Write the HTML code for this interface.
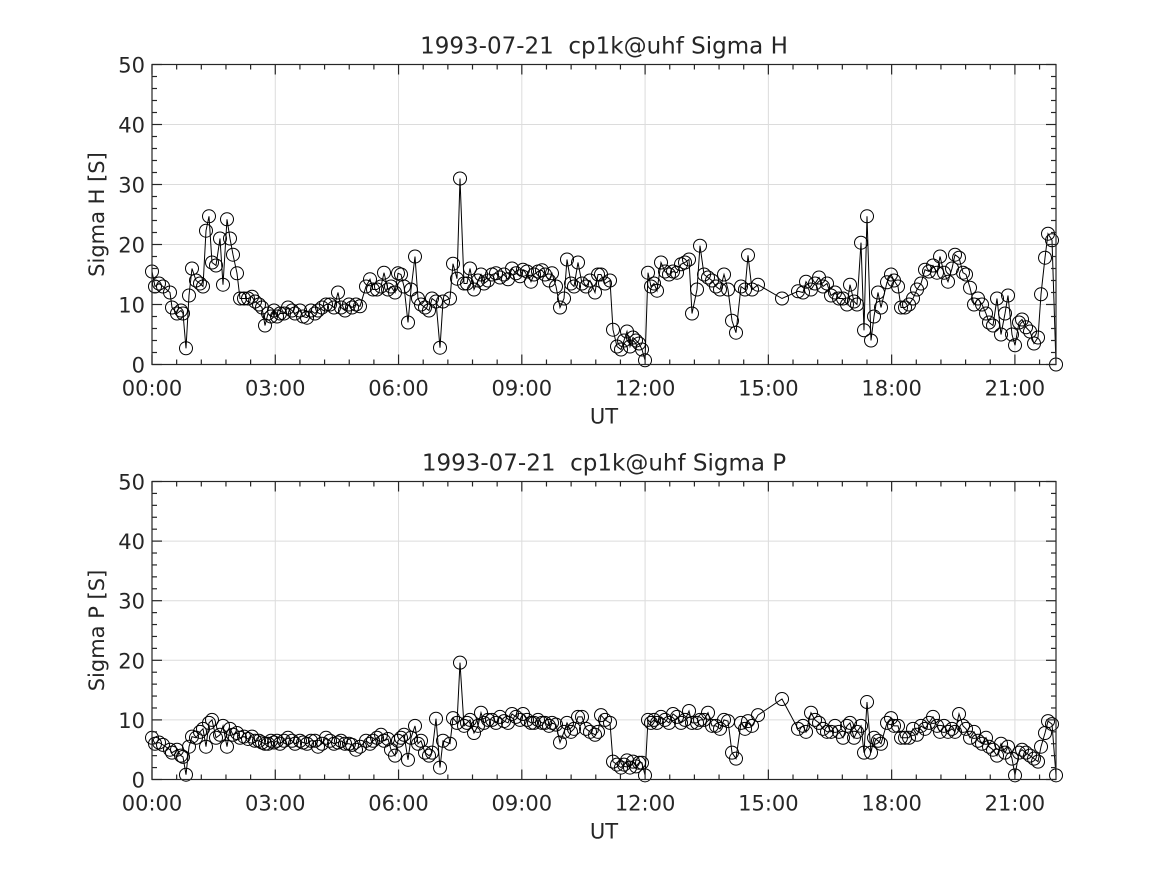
<!DOCTYPE html>
<html><head><meta charset="utf-8"><style>
body{margin:0;background:#fff;}
svg text{font-family:"DejaVu Sans","Liberation Sans",sans-serif;fill:#262626;white-space:pre;}
</style></head><body>
<svg id="chart" width="1167" height="875" viewBox="0 0 1167 875" xmlns="http://www.w3.org/2000/svg" xml:space="preserve"></svg>
<script>
const times = [152,155,159,163,170,172,177,181,183,186,189,192,196,200,203,206,209,212,216,220,223,227,230,233,237,240,244,248,252,255,259,262,265,268,271,274,277,280,284,288,292,295,300,303,307,311,315,318,322,326,330,334,338,341,345,349,352,356,360,366,370,373,377,381,384,388,391,395,398,401,404,408,411,415,418,421,425,429,432,436,440,443,450,453,457,460,464,467,470,474,478,481,484,488,492,496,500,504,508,512,516,520,523,527,531,534,538,542,545,549,552,556,560,564,567,571,574,578,582,586,590,595,598,601,605,610,613,617,621,624,627,630,633,636,639,642,645,648,651,654,657,661,665,669,673,677,681,685,689,692,697,700,704,708,712,716,720,724,728,732,736,741,745,748,752,758,782,798,803,806,811,815,819,823,827,831,835,839,843,847,850,854,857,861,864,867,871,874,878,881,887,891,894,898,901,905,909,913,917,921,925,929,933,937,940,944,948,952,955,959,963,966,970,974,978,982,986,989,993,997,1001,1005,1008,1012,1015,1019,1022,1026,1030,1034,1038,1041,1045,1048,1052,1056].map(p=>(p-152)/41.09);
const sigmaH = [15.5,13,13.5,13,12,9.5,8.5,9,8.5,2.7,
11.5,16,14,13.5,13,22.3,24.7,17,16.5,21,
13.3,24.2,21,18.3,15.2,11,11,11,11.3,10.5,
10,9.5,6.5,8.5,8,9,8,8.5,8.5,9.5,
9,8.5,9,8,7.8,9,8.5,9,9.5,10,
10,9.5,12,9.5,9,10,9.5,10,9.7,13,
14.2,12.5,12.5,13,15.3,12.5,13,12,15.2,15,
13,7,12.5,18,11,10,9.5,9,11,10.5,
2.8,10.5,11,16.8,14.3,31,13.5,13.5,16,12.5,
14,15,13.5,14,15,15.2,14.5,15,14.2,16,
15.2,14.7,15.8,15.5,13.8,15,15.5,15.7,15,14,
15.2,13,9.5,11,17.5,13.5,13,17,13.5,13,
14,12,15,15,13.5,14,5.8,3,2.5,4,
5.5,3,4.5,4,3.5,2.5,0.7,15.3,13,13.5,
12.3,17,15.5,15,15.5,15.3,16.7,17,17.5,8.5,
12.5,19.8,15,14.5,14,13,12.5,15,12.5,7.3,
5.3,13,12.5,18.2,12.5,13.3,11,12.2,12,13.8,
12.5,13.5,14.5,13,13.5,11.5,12,11,11,10,
13.3,10.5,10,20.3,5.7,24.7,4,8,12,9.5,
13.7,15,14,13,9.5,9.5,10,11,12.5,13.5,
15.8,15.5,16.5,15.3,18,15.3,13.8,16,18.3,17.8,
15.3,15,12.8,10,11,10,8.5,7,6.5,11,
5,8.5,11.5,5,3.2,7,7.5,6.2,5.5,3.5,
4.5,11.7,17.8,21.8,20.7,0];
const sigmaP = [7,6,6.2,5.8,5,4.5,5,4,3.8,0.8,
5.5,7.2,7,8,8.5,5.5,9.5,10,7,7.5,
9,5.5,8.5,7.5,7.8,7,7.2,6.8,7.2,6.5,
6.5,6.2,6,6,6.5,6.2,6.5,6,6.5,7,
6.5,6,6.5,6.2,6,6.5,6.5,5.5,6,7,
6.5,6,6.2,6.5,6,6,5.8,5,5.5,6.5,
6,6.5,7,7.5,6.5,6.8,5,4,6.5,7,
7.5,3.3,7,9,6,6.5,4.5,4,4.5,10.2,
2,6.5,6,10.3,9.5,19.6,9,9.5,10,7.8,
9,11.2,9.5,10,10,9.5,10.5,9.8,9.5,11,
10.5,10,11,10,9.5,9.5,10,9.5,9.5,9,
9.5,9.2,6.2,8,9.5,8,8.5,10.5,10.5,8.5,
8,7.5,8,10.8,10,9.5,3,2.5,2,2.5,
3.2,2,3,2.2,2.8,2.8,0.7,10,9.5,10,
9.5,10.5,10,9.5,11,10.5,9.5,10,11.5,9.5,
9.5,10,10,11.2,9,9,8.5,10,9.8,4.5,
3.5,9.5,8.5,9.8,9,10.8,13.5,8.5,9,8,
11.2,10,9.5,8.5,8,8,9,8,7,9,
9.5,7,8,9,4.5,13,4.5,7,6.5,6,
9.5,10.3,9,9,7,7,7,8.5,7.5,9,
8.5,9.5,10.5,9,8,9,8,8.5,8,11,
9,8.5,7,8,6.5,6,7,5.5,5,4,
6,4.5,5.5,3.5,0.7,4.5,5,4.5,4,3.5,
3,5.5,7.8,9.8,9.3,0.7];
const xTickLabels = ["00:00","03:00","06:00","09:00","12:00","15:00","18:00","21:00"];
const yTickLabels = ["0","10","20","30","40","50"];

const NS="http://www.w3.org/2000/svg";
const svg=document.getElementById('chart');
function mk(tag,attrs,parent){const e=document.createElementNS(NS,tag);for(const k in attrs)e.setAttribute(k,attrs[k]);(parent||svg).appendChild(e);return e;}

function drawPanel(top,bottom,vals,title,ylab,key){
  const L=152,R=1056;
  const xs=h=>L+(h/22)*(R-L);
  const ys=v=>bottom-(v/50)*(bottom-top);
  const g=mk('g',{});
  
  
  for(let i=1;i<xTickLabels.length;i++){const x=xs(i*3);const l=mk('line',{x1:x,x2:x,y1:top,y2:bottom,stroke:'#dcdcdc','stroke-width':1},g);}
  for(let i=1;i<yTickLabels.length-1;i++){const y=ys(i*10);const l=mk('line',{x1:L,x2:R,y1:y,y2:y,stroke:'#dcdcdc','stroke-width':1},g);}
  const pts=vals.map((v,i)=>xs(times[i]).toFixed(1)+','+ys(v).toFixed(1)).join(' ');
  const pl=mk('polyline',{points:pts,fill:'none',stroke:'#000','stroke-width':1},g);
  
  
  vals.forEach((v,i)=>{const c=mk('circle',{cx:xs(times[i]),cy:ys(v),r:6.5,fill:'none',stroke:'#000','stroke-width':1},g);
    
    });
  const b=mk('rect',{x:L,y:top,width:R-L,height:bottom-top,fill:'none',stroke:'#262626','stroke-width':1.2},g);
  
  
  for(let k=0;k<=36;k++){const h=k*0.6;if(h>22.001)break;const x=xs(h);const major=k%5===0;const len=major?10:5;
    mk('line',{x1:x,x2:x,y1:bottom,y2:bottom-len,stroke:'#262626','stroke-width':1.2},g);
    mk('line',{x1:x,x2:x,y1:top,y2:top+len,stroke:'#262626','stroke-width':1.2},g);}
  for(let v=0;v<=50;v+=2){const y=ys(v);const major=v%10===0;const len=major?10:5;
    mk('line',{x1:L,x2:L+len,y1:y,y2:y,stroke:'#262626','stroke-width':1.2},g);
    mk('line',{x1:R,x2:R-len,y1:y,y2:y,stroke:'#262626','stroke-width':1.2},g);}
  xTickLabels.forEach((s,i)=>{const t=mk('text',{x:xs(i*3),y:bottom+31,'text-anchor':'middle','font-size':21},g);t.textContent=s;
    });
  yTickLabels.forEach((s,i)=>{const t=mk('text',{x:L-7,y:ys(i*10)+8,'text-anchor':'end','font-size':21},g);t.textContent=s;
    });
  const tt=mk('text',{x:604,y:top-11,'text-anchor':'middle','font-size':23,fill:'#000'},g);tt.textContent=title;
  
  const xl=mk('text',{x:604,y:bottom+59,'text-anchor':'middle','font-size':21},g);xl.textContent='UT';
  
  const cy=(top+bottom)/2;
  const yl=mk('text',{x:0,y:0,'text-anchor':'middle','font-size':21,transform:`translate(104,${cy}) rotate(-90)`},g);yl.textContent=ylab;
  
}
drawPanel(64.5,364.5,sigmaH,'1993-07-21  cp1k@uhf Sigma H','Sigma H [S]','sigma-h');
drawPanel(481.5,779.5,sigmaP,'1993-07-21  cp1k@uhf Sigma P','Sigma P [S]','sigma-p');
</script>
</body></html>
